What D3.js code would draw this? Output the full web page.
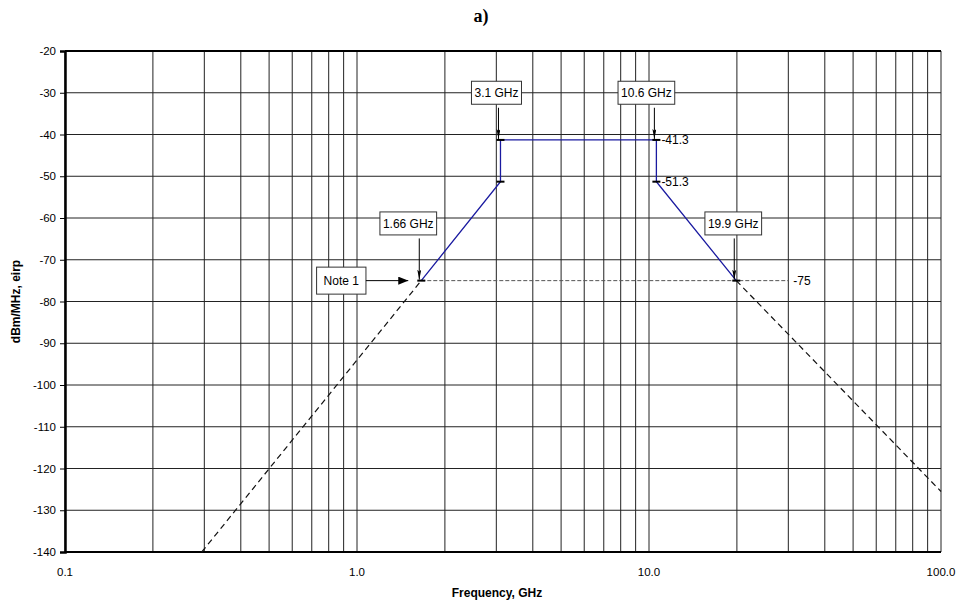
<!DOCTYPE html>
<html>
<head>
<meta charset="utf-8">
<script src="https://cdn.jsdelivr.net/npm/d3@7"></script>
<style>
  body { margin: 0; background: #fff; }
</style>
</head>
<body>
<svg width="962" height="609" font-family="'Liberation Sans', Arial, sans-serif"></svg>
<script>
// limit mask (solid blue)
const maskFreq = [1.66, 3.1, 3.1, 10.6, 10.6, 19.9];
const maskDb = [-75, -51.3, -41.3, -41.3, -51.3, -75];
// dashed extensions
const lowFreq = [0.294, 1.66];
const lowDb = [-140, -75];
const highFreq = [19.9, 100];
const highDb = [-75, -125.5];
const floorFreq = [1.66, 30];
const floorDb = [-75, -75];
// corner markers
const cornerFreq = [1.66, 3.1, 3.1, 10.6, 10.6, 19.9];
const cornerDb = [-75, -51.3, -41.3, -41.3, -51.3, -75];
// ticks
const yTicks = [-20, -30, -40, -50, -60, -70, -80, -90, -100, -110, -120, -130, -140];
const xTicks = [0.1, 1, 10, 100];
const xTickLabels = ['0.1', '1.0', '10.0', '100.0'];
const minorMult = [2, 3, 4, 5, 6, 7, 8, 9];

const svg = d3.select('svg');
const width = +svg.attr('width');
const height = +svg.attr('height');
const margin = { top: 51, right: 21, bottom: 57, left: 65 };
const innerWidth = width - margin.left - margin.right;
const innerHeight = height - margin.top - margin.bottom;

const g = svg.append('g')
    .attr('transform', `translate(${margin.left}, ${margin.top})`);

const x = d3.scaleLog().domain([0.1, 100]).range([0, innerWidth]);
const y = d3.scaleLinear().domain([-140, -20]).range([innerHeight, 0]);

// grid
const vLines = [];
xTicks.slice(0, 3).forEach(d => minorMult.forEach(m => vLines.push(d * m)));
xTicks.forEach(d => vLines.push(d));

g.selectAll('.vgrid').data(vLines).enter()
    .append('line')
    .attr('x1', d => x(d)).attr('x2', d => x(d))
    .attr('y1', 0).attr('y2', innerHeight)
    .attr('stroke', '#222').attr('stroke-width', 1);

g.selectAll('.hgrid').data(yTicks).enter()
    .append('line')
    .attr('x1', 0).attr('x2', innerWidth)
    .attr('y1', d => y(d)).attr('y2', d => y(d))
    .attr('stroke', '#222').attr('stroke-width', 1);

// frame
g.append('line').attr('x1', 0).attr('x2', innerWidth).attr('y1', 0).attr('y2', 0)
    .attr('stroke', '#000').attr('stroke-width', 2);
g.append('line').attr('x1', 0).attr('x2', innerWidth).attr('y1', innerHeight).attr('y2', innerHeight)
    .attr('stroke', '#000').attr('stroke-width', 2);

// y axis
const axisY = d3.axisLeft(y).tickValues(yTicks).tickSize(5).tickPadding(4)
    .tickFormat(d => d);
const ay = g.append('g').call(axisY)
    .attr('font-family', "'Liberation Sans', Arial, sans-serif");
ay.select('.domain').attr('stroke-width', 2.5);
ay.selectAll('text').attr('font-size', 11.5).attr('fill', '#000');

// x labels
g.selectAll('.xlab').data(xTicks).enter()
    .append('text')
    .attr('x', d => x(d))
    .attr('y', innerHeight + 24)
    .attr('text-anchor', 'middle')
    .attr('font-size', 11.5)
    .text((d, i) => xTickLabels[i]);

// lines
const line = d3.line().x(d => x(d[0])).y(d => y(d[1]));
const zip = (a, b) => a.map((v, i) => [v, b[i]]);

g.append('path').attr('d', line(zip(lowFreq, lowDb)))
    .attr('fill', 'none').attr('stroke', '#111').attr('stroke-width', 1.2)
    .attr('stroke-dasharray', '6,4');
g.append('path').attr('d', line(zip(highFreq, highDb)))
    .attr('fill', 'none').attr('stroke', '#111').attr('stroke-width', 1.2)
    .attr('stroke-dasharray', '6,4');
g.append('path').attr('d', line(zip(floorFreq, floorDb)))
    .attr('fill', 'none').attr('stroke', '#555').attr('stroke-width', 1)
    .attr('stroke-dasharray', '4,2');

g.append('path').attr('d', line(zip(maskFreq, maskDb)))
    .attr('fill', 'none').attr('stroke', '#1a1aa0').attr('stroke-width', 1.3);

// corner markers
g.selectAll('.corner').data(zip(cornerFreq, cornerDb)).enter()
    .append('line')
    .attr('x1', d => x(d[0]) - 4).attr('x2', d => x(d[0]) + 4)
    .attr('y1', d => y(d[1])).attr('y2', d => y(d[1]))
    .attr('stroke', '#000').attr('stroke-width', 2);

// arrow heads
const defs = svg.append('defs');
defs.append('marker').attr('id', 'thin')
    .attr('viewBox', '0 0 10 4').attr('refX', 10).attr('refY', 2)
    .attr('markerWidth', 10).attr('markerHeight', 4)
    .attr('markerUnits', 'userSpaceOnUse').attr('orient', 'auto')
    .append('path').attr('d', 'M0,0L10,2L0,4L2,2Z').attr('fill', '#000');
defs.append('marker').attr('id', 'fat')
    .attr('viewBox', '0 0 10 8').attr('refX', 10).attr('refY', 4)
    .attr('markerWidth', 10).attr('markerHeight', 8)
    .attr('markerUnits', 'userSpaceOnUse').attr('orient', 'auto')
    .append('path').attr('d', 'M0,0L10,4L0,8Z').attr('fill', '#000');

// callouts: label, frequency, level, box level, box x offset
const callText = ['3.1 GHz', '10.6 GHz', '1.66 GHz', '19.9 GHz'];
const callFreq = [3.1, 10.6, 1.66, 19.9];
const callDb = [-41.3, -41.3, -75, -75];
const callBoxDb = [-30, -30, -61.3, -61.3];
const callShift = [-4, -10, -13, -3];

callText.forEach((t, i) => {
    const cx = x(callFreq[i]);
    const by = y(callBoxDb[i]);
    const lab = g.append('g').attr('transform', `translate(${cx + callShift[i]}, ${by})`);
    const txt = lab.append('text')
        .attr('text-anchor', 'middle').attr('dy', '0.35em')
        .attr('font-size', 12).text(t);
    const w = txt.node().getComputedTextLength() + 6;
    lab.insert('rect', 'text')
        .attr('x', -w / 2).attr('y', -11.5).attr('width', w).attr('height', 23)
        .attr('fill', '#fff').attr('stroke', '#333').attr('stroke-width', 1);
    g.append('line')
        .attr('x1', cx - 2).attr('x2', cx - 2)
        .attr('y1', by + 15).attr('y2', y(callDb[i]) - 1)
        .attr('stroke', '#000').attr('stroke-width', 1)
        .attr('marker-end', 'url(#thin)');
});

// Note 1
const noteG = g.append('g').attr('transform', `translate(${x(1.66) - 80}, ${y(-75)})`);
const noteT = noteG.append('text').attr('text-anchor', 'middle').attr('dy', '0.35em')
    .attr('font-size', 12).text('Note 1');
const nw = noteT.node().getComputedTextLength() + 14;
noteG.insert('rect', 'text')
    .attr('x', -nw / 2).attr('y', -13.5).attr('width', nw).attr('height', 27)
    .attr('fill', '#fff').attr('stroke', '#333').attr('stroke-width', 1);
g.append('line')
    .attr('x1', x(1.66) - 80 + nw / 2).attr('x2', x(1.66) - 13)
    .attr('y1', y(-75)).attr('y2', y(-75))
    .attr('stroke', '#000').attr('stroke-width', 1)
    .attr('marker-end', 'url(#fat)');

// level labels
const levelText = ['-41.3', '-51.3', '-75'];
const levelFreq = [10.6, 10.6, 30];
const levelDb = [-41.3, -51.3, -75];
g.selectAll('.lvl').data(levelText).enter()
    .append('text')
    .attr('x', (d, i) => x(levelFreq[i]) + 5)
    .attr('y', (d, i) => y(levelDb[i]))
    .attr('dy', '0.35em')
    .attr('font-size', 12)
    .text(d => d);

// axis titles
svg.append('text')
    .attr('x', margin.left + innerWidth / 2 - 6)
    .attr('y', 597)
    .attr('text-anchor', 'middle')
    .attr('font-size', 12).attr('font-weight', 'bold')
    .text('Frequency, GHz');

svg.append('text')
    .attr('transform', `translate(20, ${margin.top + innerHeight / 2}) rotate(-90)`)
    .attr('text-anchor', 'middle')
    .attr('font-size', 12).attr('font-weight', 'bold')
    .text('dBm/MHz, eirp');

svg.append('text')
    .attr('x', 481).attr('y', 22)
    .attr('text-anchor', 'middle')
    .attr('font-family', "'Liberation Serif', 'Times New Roman', serif")
    .attr('font-size', 18).attr('font-weight', 'bold')
    .text('a)');
</script>
</body>
</html>
